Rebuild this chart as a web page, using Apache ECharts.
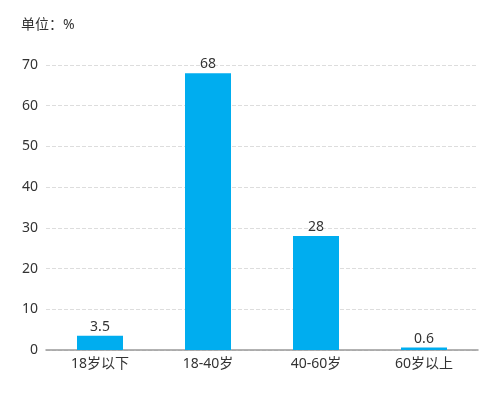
<!DOCTYPE html>
<html><head><meta charset="utf-8">
<script src="https://cdn.jsdelivr.net/npm/echarts@6/dist/echarts.min.js"></script>
<style>html,body{margin:0;padding:0;background:#fff}#c{width:500px;height:393px}</style>
</head><body><div id="c"></div>
<script>
var categories = ['18岁以下', '18-40岁', '40-60岁', '60岁以上'];
var values = [3.5, 68, 28, 0.6];
var yTicks = {min: 0, max: 70, interval: 10};
var unitText = '单位：%';

var chart = echarts.init(document.getElementById('c'));
var font = '"Noto Sans", "Noto Sans CJK SC", sans-serif';
chart.setOption({
  animation: false,
  textStyle: {fontFamily: font},
  title: {text: unitText, left: 16, top: 13, textStyle: {fontSize: 14, fontWeight: 'normal', color: '#333', fontFamily: font}},
  grid: {left: 46, right: 22, top: 65, bottom: 43, containLabel: false},
  xAxis: {
    type: 'category', data: categories,
    axisLine: {lineStyle: {color: '#999', width: 1.5}},
    axisTick: {alignWithLabel: true, length: 5, lineStyle: {color: '#999'}},
    axisLabel: {color: '#333', fontSize: 14, margin: 7, fontFamily: font}
  },
  yAxis: {
    type: 'value', min: yTicks.min, max: yTicks.max, interval: yTicks.interval,
    axisLine: {show: false}, axisTick: {show: false},
    axisLabel: {color: '#333', fontSize: 14, margin: 8, fontFamily: font},
    splitLine: {lineStyle: {color: '#ddd', type: 'dashed'}}
  },
  series: [{
    type: 'bar', data: values, barWidth: 46,
    itemStyle: {color: '#00ADEF'},
    label: {show: true, position: 'top', color: '#333', fontSize: 14, distance: 2, fontFamily: font}
  }]
});
</script></body></html>
